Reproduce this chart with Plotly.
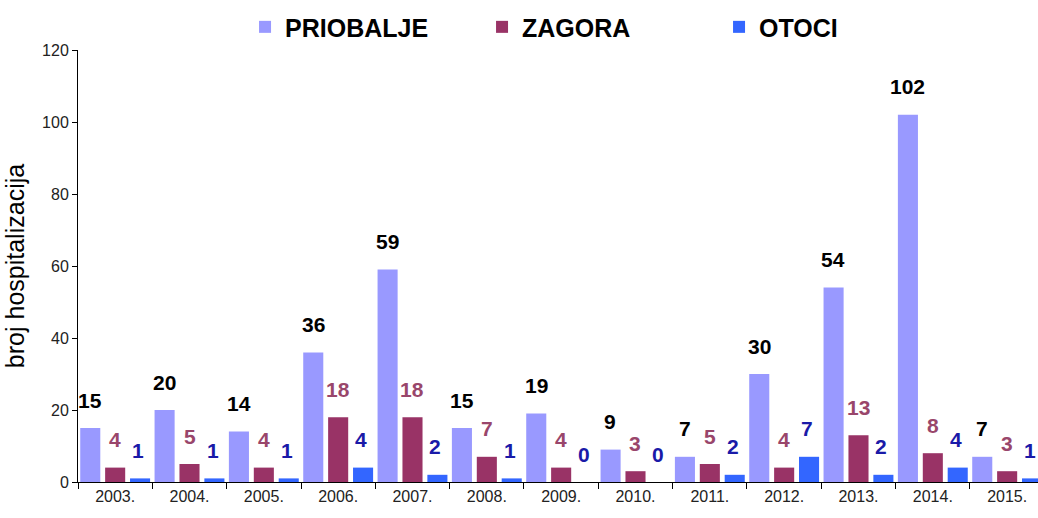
import plotly.graph_objects as go

years = ["2003.", "2004.", "2005.", "2006.", "2007.", "2008.", "2009.",
         "2010.", "2011.", "2012.", "2013.", "2014.", "2015."]
priobalje = [15, 20, 14, 36, 59, 15, 19, 9, 7, 30, 54, 102, 7]
zagora = [4, 5, 4, 18, 18, 7, 4, 3, 5, 4, 13, 8, 3]
otoci = [1, 1, 1, 4, 2, 1, 0, 0, 2, 7, 2, 4, 1]

FONT = "Liberation Sans, Arial, sans-serif"

series = [
    ("PRIOBALJE", priobalje, "#9999FF", "#000000", -0.47, -25),
    ("ZAGORA", zagora, "#993366", "#99466B", -0.135, 0),
    ("OTOCI", otoci, "#3366FF", "#1A1AA8", 0.20, 23),
]

fig = go.Figure()
annotations = []
for name, vals, col, lcol, off, shift in series:
    fig.add_trace(go.Bar(
        x=years, y=vals, name="<b>" + name + "</b>", marker_color=col, marker_line_width=0,
        width=0.27, offset=off,
    ))
    for i, v in enumerate(vals):
        annotations.append(dict(
            x=i, y=v, xref="x", yref="y", text="<b>" + str(v) + "</b>", showarrow=False,
            xshift=shift, yshift=28, yanchor="middle", xanchor="center",
            font=dict(family=FONT, size=21, color=lcol),
        ))

fig.update_layout(
    width=1038, height=518,
    margin=dict(l=78, r=0, t=50, b=36),
    paper_bgcolor="white", plot_bgcolor="white",
    barmode="overlay",
    annotations=annotations,
    legend=dict(x=0.174, xanchor="left", y=1.053, yanchor="middle", orientation="h",
                entrywidth=192, entrywidthmode="pixels",
                font=dict(family=FONT, size=25, color="#000000"),
                bgcolor="rgba(0,0,0,0)", borderwidth=0),
)
fig.update_xaxes(
    type="category", range=[-0.5, 12.415],
    showline=True, linecolor="#000000", linewidth=1,
    ticks="outside", tickson="boundaries", ticklen=6, tickcolor="#000000",
    tickfont=dict(family=FONT, size=16, color="#222222"),
    showgrid=False, zeroline=False,
)
fig.update_yaxes(
    range=[0, 120], dtick=20,
    showline=True, linecolor="#000000", linewidth=1,
    ticks="outside", ticklen=5, tickcolor="#000000",
    tickfont=dict(family=FONT, size=16, color="#222222"),
    showgrid=False, zeroline=False,
    title=dict(text="broj hospitalizacija", standoff=10,
               font=dict(family=FONT, size=25, color="#000000")),
)

fig.write_html("out.html",
               post_script="document.body.style.margin='0';document.body.style.padding='0';",
               config={"displayModeBar": False})
